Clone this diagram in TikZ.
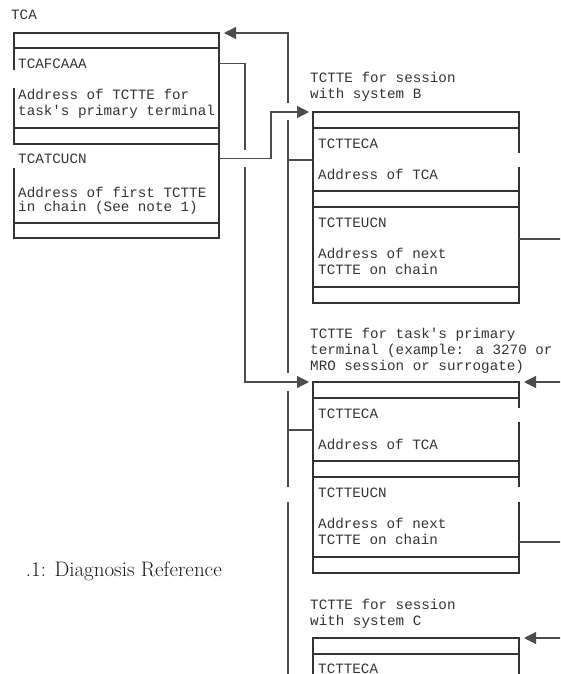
\documentclass[tikz,border=0pt]{standalone}
\usepackage{fontspec}
\usetikzlibrary{arrows.meta}
\newfontfamily\ctlmono{Liberation Mono}

\tikzset{
    ctlbox/.style={draw=black!80, line width=1.1pt, minimum width=205pt, anchor=north west, inner sep=0pt, outer sep=0pt},
    band/.style={draw=black!80, line width=1.1pt},
    fld/.style={font=\ctlmono\fontsize{14.25}{16}\selectfont, text=black!80, inner sep=0pt, anchor=base west},
    link/.style={draw=black!70, line width=1.1pt},
    wgap/.style={fill=white},
}

\begin{document}
\begin{tikzpicture}[x=1pt, y=-1pt, >={Triangle[length=12pt,width=12pt]}]
            \useasboundingbox (0,0) rectangle (560,674);
            \clip (0,0) rectangle (560,674);

            \node[fld] (tcalbl) at (11,20) {TCA};
            \node[ctlbox, minimum height=205pt] (tca) at (14,33) {};
            \foreach \d in {15,95,111,190}
                \draw[band] (tca.north west) ++(0,\d) -- ++(205,0);
            \node[fld] (fcaaa) at (18,68.5) {TCAFCAAA};
            \node[fld] (fcaaaA) at (18,100) {Address of TCTTE for};
            \node[fld] (fcaaaB) at (18,115.5) {task\textquotesingle s primary terminal};
            \node[fld] (tcucn) at (18,163.5) {TCATCUCN};
            \node[fld] (tcucnA) at (18,197) {Address of first TCTTE};
            \node[fld] (tcucnB) at (18,211.5) {in chain (See note 1)};

            \newcommand{\tcttebox}[2]{
                \node[ctlbox, minimum width=206pt, minimum height=191pt] (#1) at (313,#2) {};
                \foreach \d in {16,79,95,175}
                    \draw[band] (#1.north west) ++(0,\d) -- ++(206,0);
                \node[fld] (#1ca) at (318,#2+36) {TCTTECA};
                \node[fld] (#1caA) at (318,#2+67.5) {Address of TCA};
                \node[fld] (#1ucn) at (318,#2+115.5) {TCTTEUCN};
                \node[fld] (#1ucnA) at (318,#2+146.5) {Address of next};
                \node[fld] (#1ucnB) at (318,#2+162) {TCTTE on chain};
            }

            \tcttebox{tctteB}{112};
            \tcttebox{tctteP}{382};

            \node[ctlbox, minimum width=206pt, minimum height=191pt] (tctteC) at (313,638) {};
            \draw[band] (tctteC.north west) ++(0,16) -- ++(206,0);
            \node[fld] (tctteCca) at (318,673.4) {TCTTECA};

            \node[fld] (lblB1) at (310,83) {TCTTE for session};
            \node[fld] (lblB2) at (310,99) {with system B};
            \node[fld] (lblP1) at (310,338.5) {TCTTE for task\textquotesingle s primary};
            \node[fld] (lblP2) at (310,354) {terminal (example: a 3270 or};
            \node[fld] (lblP3) at (310,370) {MRO session or surrogate)};
            \node[fld] (lblC1) at (310,609) {TCTTE for session};
            \node[fld] (lblC2) at (310,625) {with system C};

            \node[font=\fontsize{21}{25}\selectfont, text=black!90, anchor=base east, inner sep=0pt] (pagehead) at (222,576) {.1: Diagnosis Reference};

            % every TCTTECA hangs off one line back up to the TCA
            \draw[link,->,shorten >=5pt] ([yshift=-48pt]tctteC.north west) -- ++(-25,0) |- (tca.north east);
            \draw[link] ([yshift=-48pt]tctteB.north west) -- ++(-25,0);
            \draw[link] ([yshift=-48pt]tctteP.north west) -- ++(-25,0);
            \fill[wgap] (285,103) rectangle (291,120);
            \fill[wgap] (285,373) rectangle (291,391);
            \fill[wgap] (285,487) rectangle (291,502);

            \draw[link,->,shorten >=4pt] (tca.east |- fcaaa) -- ++(26,0) |- (tctteP.north west);
            \fill[wgap] (242,150) rectangle (248,167);
            \draw[link,->,shorten >=4pt] (tca.east |- tcucn) -- ++(52,0) |- (tctteB.north west);

            % TCTTEUCN chain runs off to the right
            \draw[link,->,shorten >=5pt] ([yshift=-127pt]tctteB.north east) -- ++(60,0) |- (tctteP.north east);
            \draw[link,->,shorten >=5pt] ([yshift=-160pt]tctteP.north east) -- ++(60,0) |- (tctteC.north east);

            \fill[wgap] (12,70) rectangle (16,88);
            \fill[wgap] (12,145) rectangle (16,168);
            \fill[wgap] (517,153) rectangle (521,167);
            \fill[wgap] (517,408) rectangle (521,422);
            \fill[wgap] (517,487) rectangle (521,502);
\end{tikzpicture}
\end{document}
